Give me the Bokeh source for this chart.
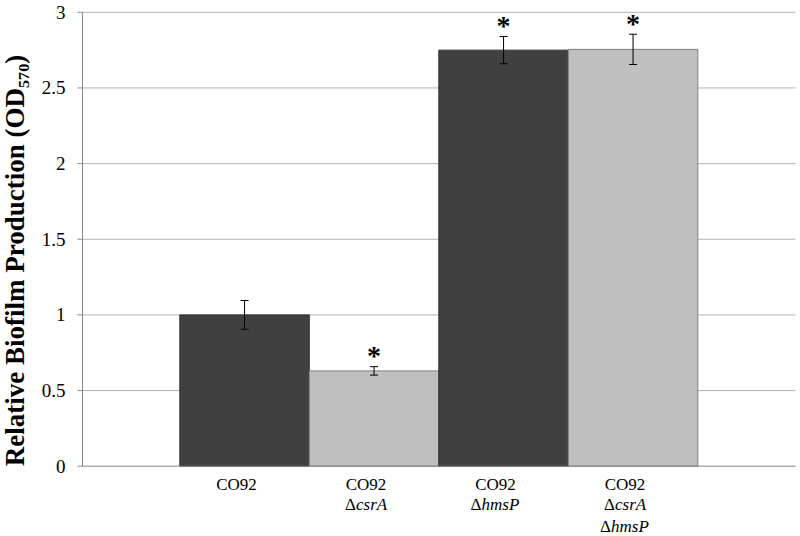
import math
from bokeh.plotting import figure
from bokeh.models import ColumnDataSource, Range1d
from bokeh.core.properties import value
from bokeh.embed import file_html
from bokeh.resources import INLINE

# ---------------- data ----------------
categories = ["CO92", "CO92 ΔcsrA", "CO92 ΔhmsP", "CO92 ΔcsrA ΔhmsP"]
label_line1 = ["CO92", "CO92", "CO92", "CO92"]
label_line2 = ["", "csrA", "hmsP", "csrA"]   # each preceded by an upright Δ
label_line3 = ["", "", "", "hmsP"]
values = [1.0, 0.63, 2.75, 2.755]
errors = [0.095, 0.028, 0.09, 0.10]
significant = [False, True, True, True]
y_ticks = [0, 0.5, 1, 1.5, 2, 2.5, 3]
y_tick_labels = ["0", "0.5", "1", "1.5", "2", "2.5", "3"]
y_axis_title = "Relative Biofilm Production (OD₅₇₀)"

# ---------------- styles ----------------
FONT = "Liberation Serif"
fill_colors = ["#404040", "#bfbfbf", "#404040", "#bfbfbf"]
edge_colors = ["#333333", "#808080", "#333333", "#808080"]
AXIS_COLOR = "#868686"
GRID_COLOR = "#b4b4b4"

W, H = 800, 536
# layout: pixel geometry of the plotting area (canvas pixels)
BAR_PX = 129.5          # pixels per category slot
FIRST_BAR_LEFT_PX = 179.3
ZERO_PX = 465.7         # canvas y of value 0
PX_PER_UNIT = 151.3     # pixels per value unit
AXIS_LEFT_PX = 82
AXIS_RIGHT_PX = 795

x_start = 0.5 - FIRST_BAR_LEFT_PX / BAR_PX


def dx(px):
    return x_start + px / BAR_PX


def dy(py):
    return (ZERO_PX - py) / PX_PER_UNIT


xs = [i + 1 for i in range(len(categories))]
upper = [v + e for v, e in zip(values, errors)]
lower = [v - e for v, e in zip(values, errors)]

src = ColumnDataSource(dict(x=xs, top=values, upper=upper, lower=lower,
                            fill=fill_colors, edge=edge_colors, cat=categories))

p = figure(width=W, height=H, output_backend="svg", toolbar_location=None,
           x_range=Range1d(dx(0), dx(W)), y_range=Range1d(dy(H), dy(0)),
           x_axis_type=None, y_axis_type=None,
           min_border_left=0, min_border_right=0, min_border_top=0, min_border_bottom=0)
p.outline_line_color = None
p.background_fill_color = "white"
p.border_fill_color = "white"
p.grid.visible = False

ax_l, ax_r = dx(AXIS_LEFT_PX), dx(AXIS_RIGHT_PX)

# horizontal gridlines
grid_ticks = [t for t in y_ticks if t > 0]
p.segment(x0=[ax_l] * len(grid_ticks), x1=[ax_r] * len(grid_ticks),
          y0=grid_ticks, y1=grid_ticks, line_color=GRID_COLOR, line_width=1)

# bars
p.vbar(x="x", top="top", bottom=0, width=1.0, source=src,
       fill_color="fill", line_color="edge", line_width=1)

# axis lines
p.segment(x0=[ax_l], x1=[ax_l], y0=[y_ticks[0]], y1=[y_ticks[-1]],
          line_color=AXIS_COLOR, line_width=1)
p.segment(x0=[ax_l], x1=[ax_r], y0=[0], y1=[0], line_color=AXIS_COLOR, line_width=1)
# y tick marks (5 px outward)
p.segment(x0=[dx(AXIS_LEFT_PX - 5)] * len(y_ticks), x1=[ax_l] * len(y_ticks),
          y0=y_ticks, y1=y_ticks, line_color=AXIS_COLOR, line_width=1)
# y tick labels
p.text(x=[dx(65)] * len(y_ticks), y=y_ticks, text=y_tick_labels,
       text_font=value(FONT), text_font_size="19px", text_color="black",
       text_align="right", text_baseline="middle")

# y axis title
p.text(x=[dx(14)], y=[dy(260)], text=[y_axis_title], angle=math.pi / 2,
       text_font=value(FONT), text_font_style="bold", text_font_size="27px",
       text_color="black", text_align="center", text_baseline="alphabetic")

# error bars
p.segment(x0="x", x1="x", y0="lower", y1="upper", source=src,
          line_color="black", line_width=1)
p.scatter(x="x", y="upper", source=src, marker="dash", size=8,
          line_color="black", line_width=1)
p.scatter(x="x", y="lower", source=src, marker="dash", size=8,
          line_color="black", line_width=1)

# significance asterisks
sig_x = [x for x, s in zip(xs, significant) if s]
sig_y = [u for u, s in zip(upper, significant) if s]
p.text(x=sig_x, y=sig_y, text=["*"] * len(sig_x), y_offset=-11,
       text_font=value(FONT), text_font_style="bold", text_font_size="28px",
       text_align="center", text_baseline="middle", text_color="black")

# category labels (below the axis)
line_y = [dy(484), dy(504), dy(526)]
shift = -8
delta_anchor = {"csrA": -10, "hmsP": -14}
p.text(x=xs, y=[line_y[0]] * len(xs), text=label_line1, x_offset=shift,
       text_font=value(FONT), text_font_size="17px", text_color="black",
       text_align="center", text_baseline="middle")
for ly, words in ((line_y[1], label_line2), (line_y[2], label_line3)):
    wx = [x for x, w in zip(xs, words) if w]
    ww = [w for w in words if w]
    offs = [shift + delta_anchor[w] for w in ww]
    p.text(x=wx, y=[ly] * len(wx), text=["Δ"] * len(wx), x_offset=offs,
           text_font=value(FONT), text_font_size="17px", text_color="black",
           text_align="right", text_baseline="middle")
    p.text(x=wx, y=[ly] * len(wx), text=ww, x_offset=offs,
           text_font=value(FONT), text_font_style="italic", text_font_size="17px",
           text_color="black", text_align="left", text_baseline="middle")

open("out.html", "w").write(file_html(p, INLINE))
